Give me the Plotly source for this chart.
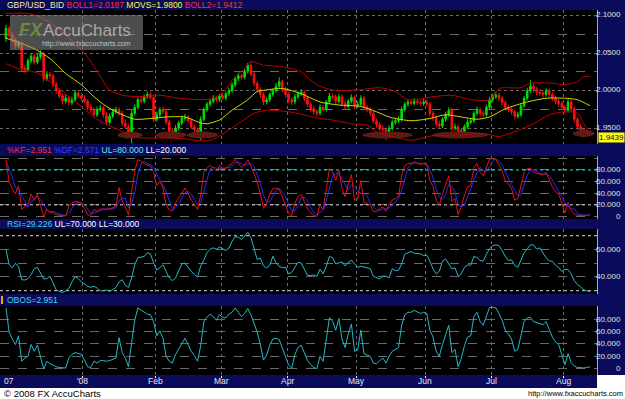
import numpy as np
import plotly.graph_objects as go

W, H = 625, 399

# ---------------- data (prices in thousandths) ----------------
open_k = [2070,2083,2074,2068,2060,2063,2030,2028,2040,2046,
          2038,2045,2050,2016,2022,2020,2008,2000,1993,1986,
          1990,1984,1988,1997,1993,1990,1986,1978,1975,1968,
          1975,1977,1968,1958,1966,1972,1975,1970,1957,1952,
          1945,1970,1978,1988,1986,1992,1995,1991,1962,1968,
          1975,1972,1958,1946,1943,1950,1957,1963,1965,1960,
          1952,1948,1943,1962,1975,1982,1986,1990,1988,1993,
          1990,1996,2000,2008,2016,2020,2018,2026,2034,2022,
          2010,2002,1995,1985,1988,1995,2000,2006,2012,2002,
          1995,1988,1985,1992,1996,1998,1990,1982,1976,1972,
          1970,1978,1975,1985,1993,1992,1986,1992,1983,1979,
          1986,1991,1980,1982,1990,1978,1975,1970,1960,1955,
          1950,1948,1942,1950,1958,1960,1962,1975,1982,1985,
          1983,1986,1984,1983,1985,1982,1970,1964,1956,1953,
          1962,1968,1974,1950,1952,1942,1946,1952,1958,1960,
          1970,1975,1970,1968,1978,1988,1992,1994,1990,1984,
          1978,1975,1972,1966,1968,1980,1990,2000,2006,2002,
          1998,1997,1995,2000,1995,1990,1986,1983,1978,1974,
          1985,1976,1962,1952,1948,1942,1945]
high_k = [2088,2086,2078,2071,2067,2066,2034,2043,2050,2049,
          2049,2054,2052,2026,2025,2023,2012,2003,1996,1995,
          1993,1992,2001,1999,1997,1994,1989,1982,1978,1979,
          1981,1980,1971,1970,1976,1979,1978,1973,1962,1956,
          1974,1982,1991,1992,1995,1999,1998,1994,1972,1978,
          1979,1975,1961,1950,1954,1960,1967,1969,1968,1963,
          1955,1951,1966,1978,1985,1989,1994,1993,1996,1997,
          1999,2004,2011,2019,2024,2023,2029,2037,2038,2025,
          2013,2005,1998,1991,1998,2003,2010,2018,2015,2005,
          1998,1991,1996,1999,2002,2001,1993,1985,1980,1975,
          1982,1981,1988,1997,1996,1995,1996,1995,1987,1989,
          1995,1994,1986,1994,1993,1981,1978,1973,1963,1958,
          1954,1951,1954,1962,1964,1966,1979,1985,1988,1988,
          1990,1989,1987,1989,1988,1985,1973,1967,1960,1965,
          1972,1978,1977,1956,1955,1950,1955,1962,1963,1973,
          1979,1978,1974,1981,1992,1996,1998,1997,1993,1987,
          1981,1978,1975,1972,1983,1993,2004,2014,2010,2005,
          2002,2000,2004,2003,1998,1993,1989,1986,1981,1989,
          1988,1979,1965,1955,1950,1948,1947]
low_k = [2065,2071,2064,2056,2057,2025,2024,2026,2037,2035,
         2035,2042,2012,2013,2016,2005,1996,1990,1982,1983,
         1980,1981,1985,1990,1986,1983,1974,1971,1964,1965,
         1972,1964,1954,1955,1963,1969,1966,1953,1949,1941,
         1930,1967,1975,1983,1983,1989,1988,1958,1959,1965,
         1969,1955,1942,1939,1940,1947,1954,1960,1957,1949,
         1945,1940,1934,1959,1972,1979,1983,1985,1985,1987,
         1987,1993,1997,2005,2013,2015,2015,2023,2019,2006,
         1998,1991,1981,1982,1985,1992,1997,2003,1998,1991,
         1984,1981,1982,1989,1993,1986,1978,1972,1968,1966,
         1967,1972,1972,1982,1989,1982,1983,1979,1975,1976,
         1983,1976,1977,1979,1974,1971,1966,1956,1951,1946,
         1944,1934,1939,1947,1955,1957,1959,1972,1979,1980,
         1980,1981,1980,1980,1979,1966,1960,1952,1949,1950,
         1959,1965,1946,1947,1938,1939,1943,1949,1955,1957,
         1967,1966,1964,1965,1975,1985,1989,1986,1980,1974,
         1971,1968,1962,1963,1965,1977,1987,1997,1998,1994,
         1993,1991,1992,1991,1986,1982,1979,1974,1970,1971,
         1972,1958,1948,1944,1938,1939,1940]
close_k = [2083,2074,2068,2060,2063,2030,2028,2040,2046,2038,
           2045,2050,2016,2022,2020,2008,2000,1993,1986,1990,
           1984,1988,1997,1993,1990,1986,1978,1975,1968,1975,
           1977,1968,1958,1966,1972,1975,1970,1957,1952,1945,
           1970,1978,1988,1986,1992,1995,1991,1962,1968,1975,
           1972,1958,1946,1943,1950,1957,1963,1965,1960,1952,
           1948,1943,1962,1975,1982,1986,1990,1988,1993,1990,
           1996,2000,2008,2016,2020,2018,2026,2034,2022,2010,
           2002,1995,1985,1988,1995,2000,2006,2012,2002,1995,
           1988,1985,1992,1996,1998,1990,1982,1976,1972,1970,
           1978,1975,1985,1993,1992,1986,1992,1983,1979,1986,
           1991,1980,1982,1990,1978,1975,1970,1960,1955,1950,
           1948,1942,1950,1958,1960,1962,1975,1982,1985,1983,
           1986,1984,1983,1985,1982,1970,1964,1956,1953,1962,
           1968,1974,1950,1952,1942,1946,1952,1958,1960,1970,
           1975,1970,1968,1978,1988,1992,1994,1990,1984,1978,
           1975,1972,1966,1968,1980,1990,2000,2006,2002,1998,
           1997,1995,2000,1995,1990,1986,1983,1978,1974,1985,
           1976,1962,1952,1948,1942,1945,1944]

boll1_idx = [0,7,12,17,22,26,30,33,37,43,49,55,62,66,70,72,76,78,82,88,
             94,97,100,104,112,119,124,128,136,142,148,154,157,164,167,174,178,182,184,186]
boll1_k = [2103,2103,2096,2081,2063,2045,2019,2001,1994,1992,1994,1990,1988,1990,2001,2014,2030,2039,2034,2032,
           2025,2014,2006,2001,2001,2004,1999,1988,1992,1994,1988,1988,2003,2004,2010,2010,2008,2012,2019,2019]
movs_idx = [0,5,9,14,19,24,28,32,36,41,46,51,57,62,64,68,72,77,80,83,
            88,94,100,106,113,118,122,129,135,140,145,150,154,159,166,172,178,182,186]
movs_k = [2070,2063,2056,2043,2023,2008,1992,1979,1970,1962,1963,1965,1965,1957,1956,1961,1974,1988,1999,2001,
          2003,1996,1985,1981,1979,1972,1965,1960,1963,1968,1965,1962,1965,1976,1985,1990,1990,1988,1980]
boll2_idx = [0,5,9,12,16,19,26,30,36,41,46,51,57,62,66,70,75,79,83,90,
             100,104,110,115,118,123,129,136,144,152,157,163,168,173,178,182,184,186]
boll2_k = [2036,2028,2025,2019,2005,1996,1972,1959,1948,1938,1937,1937,1936,1933,1935,1945,1959,1970,1974,1972,
           1963,1961,1956,1954,1945,1939,1934,1940,1941,1943,1939,1947,1956,1968,1972,1970,1956,1941]

stoch_k = [98,59,48,39,53,12,17,20,39,28,
           38,20,0,12,8,6,3,2,1,1,
           17,23,26,24,23,14,3,2,12,9,
           13,13,12,13,15,17,50,26,17,3,
           42,78,98,95,91,88,87,76,53,61,
           49,20,12,9,23,32,42,49,39,28,
           21,12,37,76,83,88,84,78,87,83,
           82,88,91,98,91,84,89,97,87,73,
           59,39,14,22,38,48,49,47,34,20,
           6,1,23,34,38,26,13,7,2,0,
           20,12,48,82,77,62,81,48,34,56,
           72,28,30,62,24,22,20,9,8,13,
           17,9,20,28,31,34,70,87,91,91,
           94,91,89,91,89,62,51,28,20,39,
           56,70,26,31,3,17,37,51,53,84,
           91,76,70,86,99,99,98,89,78,62,
           56,48,28,31,56,76,82,83,76,74,
           73,71,76,63,51,43,39,23,6,24,
           10,4,2,2,1,2,3]
stoch_d = [95,80,68,49,47,35,27,16,25,29,
           35,29,19,11,7,9,6,4,2,1,
           6,14,22,24,24,20,13,6,6,8,
           11,12,13,13,13,15,27,31,31,15,
           21,41,73,90,95,91,89,84,72,63,
           54,43,27,14,15,21,32,41,43,39,
           29,20,23,42,65,82,85,83,83,83,
           84,84,87,92,93,91,88,90,91,86,
           73,57,37,25,25,36,45,48,43,34,
           20,9,10,19,32,33,26,15,7,3,
           7,11,27,47,69,74,73,64,54,46,
           54,52,43,40,39,36,22,17,12,10,
           13,13,15,19,26,31,45,64,83,90,
           92,92,91,90,90,81,67,47,33,29,
           38,55,51,42,20,17,19,35,47,63,
           76,84,79,77,85,95,99,95,88,76,
           65,55,44,36,38,54,71,80,80,78,
           74,73,73,70,63,52,44,35,23,18,
           13,13,5,3,2,2,3]
rsi = [60,49,46.6,50,47.6,38,37.8,38.8,41.7,46,
       47,43,38.5,38.8,40.5,35.6,30.5,29.5,28.5,30,
       31.5,36.3,40.2,39,36.3,35,33.2,32.4,33.2,32,
       29.8,30.2,30.5,29.5,30.7,32.2,36.3,38,34,32.4,
       39.3,49,54,54.6,54.9,57.6,56.8,50.2,45,46.8,
       48.8,43.9,39.3,37.3,39.3,44.4,49.5,50.2,47,44.1,
       41.7,40,48,52.2,57.6,60.2,61.2,60.2,61.7,60.5,
       59.3,61,66,69.3,69,67.3,69.5,72.4,68.5,61.2,
       52.7,53.7,48,46.6,48.5,55.1,50.5,47.6,46.8,47,
       42.2,43.4,47.3,50.7,50.2,45.1,41.2,41,41.5,40.5,
       45.6,42.2,47.8,54.9,54.1,49.5,50.2,51,48,50.7,
       52.2,49.8,47,47.8,47.3,46.8,46,40.5,39.3,38.5,
       40.7,40.5,39.3,46,44.6,44.9,49.5,56.6,57.6,58.5,
       57.3,56.8,56.8,55.6,55.9,51.5,45.9,42.2,44.1,51.5,
       53.2,49.5,45.9,46.6,40.5,42.4,47,48.8,48.5,54.9,
       54.1,52,51.5,56.6,60.7,62.7,63.4,62.7,59.3,54.9,
       52,52.4,48.5,47,52.2,57.6,60.5,63.4,63.2,60.2,
       61.2,57.6,53.9,51.7,51.5,48.5,46.8,44.1,45.6,45.4,
       42.2,37.3,34.4,32.9,30.7,29.8,29.2]
obos = stoch_k  # OBOS panel carries the same oscillator values (OBOS=2.951 = %KF)

stoch_levels = [80, 20]
rsi_levels = [70, 30]

month_first_idx = [25, 48, 69, 90, 112, 134, 155, 178]
month_labels = ["'08", "Feb", "Mar", "Apr", "May", "Jun", "Jul", "Aug"]

pattern_start = [36, 48, 58, 114, 136, 181]
pattern_end = [43, 57, 67, 129, 153, 187]
pattern_level = [1.941, 1.941, 1.941, 1.941, 1.941, 1.943]

price_ticks = [1.95, 2.00, 2.05, 2.10]
price_minor = [1.975, 2.025, 2.075]
stoch_ticks = [0, 20, 40, 60, 80]
rsi_ticks = [40, 60]
obos_ticks = [0, 20, 40, 60, 80]
last_price = 1.9439

# ---------------- build ----------------
idx = list(range(len(close_k)))
o = [v / 1000 for v in open_k]
hi = [v / 1000 for v in high_k]
lo = [v / 1000 for v in low_k]
c = [v / 1000 for v in close_k]

PX0, PXD, PLOT_R_PX = 6.0, 3.14, 597.0
xr = [-PX0 / PXD, (PLOT_R_PX - PX0) / PXD]
XR = PLOT_R_PX / W

def dom(top, bot):
    return [1 - bot / H, 1 - top / H]

def py(px):
    return 1 - px / H

FONT = "Liberation Sans, Arial, sans-serif"
NAVY = "#0b0b5c"
GRID = "#6a6a6a"
NOHOV = dict(showlegend=False, hoverinfo="skip")

fig = go.Figure()

# pattern highlight ellipses (under the candles)
t = np.linspace(0, 2 * np.pi, 48)
for s, e, lv in zip(pattern_start, pattern_end, pattern_level):
    cx, rx = (s + e) / 2, (e - s) / 2 + 0.5
    fig.add_trace(go.Scatter(x=cx + rx * np.cos(t), y=lv + 0.0047 * np.sin(t), mode="lines",
                             fill="toself", fillcolor="#5a1c14", line=dict(width=0, color="#5a1c14"),
                             xaxis="x", yaxis="y", **NOHOV))

fig.add_trace(go.Candlestick(
    x=idx, open=o, high=hi, low=lo, close=c, xaxis="x", yaxis="y",
    increasing=dict(line=dict(color="#00e000", width=1), fillcolor="#00e000"),
    decreasing=dict(line=dict(color="#ff1010", width=1), fillcolor="#ff1010"),
    whiskerwidth=0, **NOHOV))
for xs, ys, col in [(boll1_idx, boll1_k, "#c00000"), (boll2_idx, boll2_k, "#c00000"),
                    (movs_idx, movs_k, "#d8d800")]:
    fig.add_trace(go.Scatter(x=xs, y=[v / 1000 for v in ys], mode="lines",
                             line=dict(color=col, width=1, shape="spline", smoothing=0.7),
                             xaxis="x", yaxis="y", **NOHOV))

# reference levels
for lv, col in zip(stoch_levels, ["#30d8d8", "#d8d8d8"]):
    fig.add_trace(go.Scatter(x=xr, y=[lv, lv], mode="lines", line=dict(color=col, width=1, dash="dot"),
                             xaxis="x2", yaxis="y2", **NOHOV))
for lv in rsi_levels:
    fig.add_trace(go.Scatter(x=xr, y=[lv, lv], mode="lines", line=dict(color="#d8d8d8", width=1, dash="dot"),
                             xaxis="x3", yaxis="y3", **NOHOV))

fig.add_trace(go.Scatter(x=idx, y=stoch_d, mode="lines", line=dict(color="#2828ff", width=1),
                         xaxis="x2", yaxis="y2", **NOHOV))
fig.add_trace(go.Scatter(x=idx, y=stoch_k, mode="lines", line=dict(color="#e81010", width=1),
                         xaxis="x2", yaxis="y2", **NOHOV))
fig.add_trace(go.Scatter(x=idx, y=rsi, mode="lines", line=dict(color="#28b8c8", width=1),
                         xaxis="x3", yaxis="y3", **NOHOV))
fig.add_trace(go.Scatter(x=idx, y=obos, mode="lines", line=dict(color="#28b8c8", width=1),
                         xaxis="x4", yaxis="y4", **NOHOV))

month_ticks = [m - 0.5 for m in month_first_idx]

def xax(anchor, last=False):
    d = dict(domain=[0, XR], range=xr, anchor=anchor, showgrid=True, gridcolor=GRID,
             griddash="dot", gridwidth=1, zeroline=False, tickvals=month_ticks,
             showticklabels=False, fixedrange=True, rangeslider=dict(visible=False),
             ticks="outside" if last else "", ticklen=2, tickcolor="#ffffff", showline=False)
    if anchor != "y":
        d["matches"] = "x"
    return d

def yax(top, bot, rng, ticks, gdash="dash", minor=None):
    d = dict(domain=dom(top, bot), range=rng, side="right", showline=True,
             linecolor="#d8b400", linewidth=1, showticklabels=False, tickvals=ticks,
             showgrid=True, gridcolor=GRID, griddash=gdash, gridwidth=1,
             zeroline=False, fixedrange=True, ticks="")
    if minor:
        d["minor"] = minor
    return d

fig.update_layout(
    width=W, height=H, margin=dict(l=0, r=0, t=0, b=0),
    paper_bgcolor=NAVY, plot_bgcolor="#000000",
    xaxis=xax("y"), xaxis2=xax("y2"), xaxis3=xax("y3"), xaxis4=xax("y4", last=True),
    yaxis=yax(10, 144, [1.929, 2.1076], price_ticks, gdash="dot",
              minor=dict(tickvals=price_minor, showgrid=True, gridcolor=GRID, griddash="dash")),
    yaxis2=yax(156, 219, [-4.3, 104], [0, 20, 40, 60, 80, 100]),
    yaxis3=yax(229, 294, [27.6, 74.9], [40, 50, 60]),
    yaxis4=yax(306, 375, [-10.2, 101.1], [0, 20, 40, 60, 80, 100]),
    font=dict(family=FONT),
)

shapes = [
    # white footer strip and corner beside the date bar
    dict(type="rect", xref="paper", yref="paper", x0=0, x1=1, y0=0, y1=py(388),
         fillcolor="#ffffff", line=dict(width=0)),
    dict(type="rect", xref="paper", yref="paper", x0=XR, x1=1, y0=0, y1=py(375),
         fillcolor="#ffffff", line=dict(width=0)),
    # logo box
    dict(type="rect", xref="paper", yref="paper", x0=10 / W, x1=143 / W,
         y0=py(50), y1=py(15), fillcolor="rgba(140,140,140,0.55)", line=dict(width=0)),
    # orange marker in the OBOS title bar
    dict(type="rect", xref="paper", yref="paper", x0=1 / W, x1=3 / W,
         y0=py(304), y1=py(296), fillcolor="#ff9900", line=dict(width=0)),
]
fig.update_layout(shapes=shapes)

ann = []
LBL = dict(family=FONT, size=8, color="#e0e0e0")
for v in price_ticks:
    ann.append(dict(x=623 / W, xref="paper", xanchor="right", y=v, yref="y",
                    text=f"{v:.4f}", showarrow=False, font=LBL, yshift=1))
for ticks, ya in [(stoch_ticks, "y2"), (rsi_ticks, "y3"), (obos_ticks, "y4")]:
    for v in ticks:
        ann.append(dict(x=623 / W, xref="paper", xanchor="right", y=v, yref=ya,
                        text="0" if v == 0 else f"{v:.3f}", showarrow=False, font=LBL))
ann.append(dict(x=1, xref="paper", xanchor="right", y=last_price, yref="y", yanchor="top",
                text=f"{last_price:.4f}", showarrow=False, bgcolor="#ffff00",
                font=dict(family=FONT, size=8, color="#000070"), borderpad=0, yshift=1))

# month labels in the date bar
DF = dict(family=FONT, size=8.5, color="#e8e8e8")
for tv, lab in zip(month_ticks, month_labels):
    ann.append(dict(x=tv, xref="x4", xanchor="center", y=py(381), yref="paper", yanchor="middle",
                    text=lab, showarrow=False, font=DF))
ann.append(dict(x=2 / W, xref="paper", xanchor="left", y=py(381), yref="paper", yanchor="middle",
                text="07", showarrow=False, font=DF))

TF = dict(family=FONT, size=8.5)
titles = [
    (5, "<span style='color:#f4f0a0'>GBP/USD_BID</span> <span style='color:#ff3030'>BOLL1=2.0187</span> "
        "<span style='color:#ffff30'>MOVS=1.9800</span> <span style='color:#ff3030'>BOLL2=1.9412</span>"),
    (150, "<span style='color:#ff2a2a'>%KF=2.951</span> <span style='color:#3a3aff'>%DF=2.571</span> "
          "<span style='color:#60e8f0'>UL=80.000</span> <span style='color:#ffffff'>LL=20.000</span>"),
    (224, "<span style='color:#40d8e8'>RSI=29.226</span> <span style='color:#ffffff'>UL=70.000 LL=30.000</span>"),
    (300, "<span style='color:#40d8e8'>OBOS=2.951</span>"),
]
for yp, tx in titles:
    ann.append(dict(x=5 / W, xref="paper", xanchor="left", y=py(yp),
                    yref="paper", yanchor="middle", text=tx, showarrow=False, font=TF))

# logo texts
ann.append(dict(x=17 / W, xref="paper", xanchor="left", y=py(30), yref="paper", yanchor="middle",
                text="<b><i>FX</i></b>", showarrow=False,
                font=dict(family=FONT, size=18, color="#6f8a3a")))
ann.append(dict(x=41 / W, xref="paper", xanchor="left", y=py(30), yref="paper", yanchor="middle",
                text="AccuCharts", showarrow=False,
                font=dict(family=FONT, size=17, color="#a8a8a8")))
ann.append(dict(x=40 / W, xref="paper", xanchor="left", y=py(44), yref="paper", yanchor="middle",
                text="http://www.fxaccucharts.com", showarrow=False,
                font=dict(family=FONT, size=7, color="#c0c0c0")))

# footer
ann.append(dict(x=2 / W, xref="paper", xanchor="left", y=py(393.5), yref="paper", yanchor="middle",
                text="© 2008 FX AccuCharts", showarrow=False,
                font=dict(family=FONT, size=9.5, color="#000000")))
ann.append(dict(x=1, xref="paper", xanchor="right", y=py(393.5), yref="paper", yanchor="middle",
                text="http://www.fxaccucharts.com", showarrow=False,
                font=dict(family=FONT, size=7.5, color="#000000")))
fig.update_layout(annotations=ann)

fig.write_html("out.html", config={"displayModeBar": False})
